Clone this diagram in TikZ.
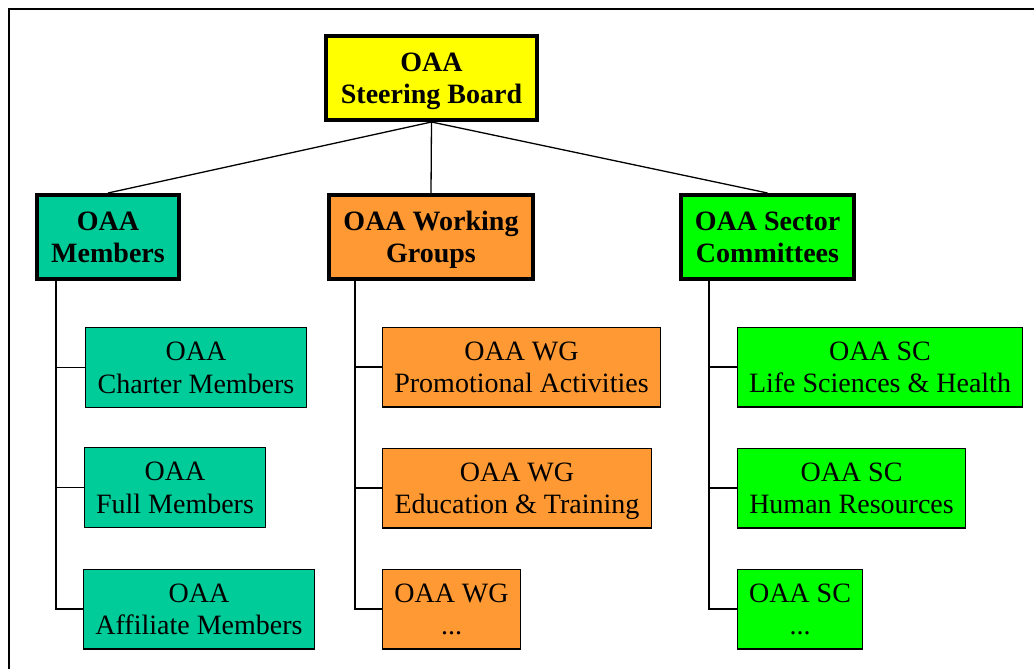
\documentclass[tikz,border=0pt]{standalone}
\usepackage{fontspec}
\setmainfont{Liberation Serif}
\definecolor{boardyellow}{HTML}{FFFF00}
\definecolor{memberteal}{HTML}{00CC99}
\definecolor{wgorange}{HTML}{FF9933}
\definecolor{scgreen}{HTML}{00FF00}
\tikzset{
	headbox/.style={draw, line width=4pt, align=center, inner sep=0pt, text depth=0pt,
		minimum height=84pt, font=\fontsize{28}{32}\selectfont\bfseries},
	subbox/.style={draw, line width=1.4pt, align=center, inner sep=0pt, text depth=-4pt,
		minimum height=79.6pt, font=\fontsize{28}{32.5}\selectfont},
	wire/.style={line width=1.3pt}
}
\begin{document}
\begin{tikzpicture}[x=1pt, y=-1pt]
		\useasboundingbox (0,0) rectangle (1034,669);

		% Draw the frame
		\draw[line width=1.5pt] (9,669) -- (9,9) -- (1034,9);

		% Draw the board and the three groups below it
		\node[headbox, fill=boardyellow, minimum width=211pt] (board) at (431.5,78) {OAA\\Steering Board};
		\node[headbox, fill=memberteal, minimum width=142pt] (members) at (108,237) {OAA\\Members};
		\node[headbox, fill=wgorange, minimum width=204pt] (groups) at (431,237) {OAA Working\\Groups};
		\node[headbox, fill=scgreen, minimum width=173pt] (sectors) at (767.5,237) {OAA Sector\\Committees};

		\draw[wire] (board.south) -- (members.north);
		\draw[wire] (board.south) -- (groups.north);
		\draw[wire] (board.south) -- (sectors.north);

		% Draw the members
		\node[subbox, fill=memberteal, minimum width=220.6pt] (charter) at (196,367.5) {OAA\\Charter Members};
		\node[subbox, fill=memberteal, minimum width=180.6pt] (full) at (175,487.5) {OAA\\Full Members};
		\node[subbox, fill=memberteal, minimum width=230.6pt] (affiliate) at (199,609) {OAA\\Affiliate Members};

		% Draw the working groups
		\node[subbox, fill=wgorange, minimum width=277.6pt] (promo) at (521.5,367) {OAA WG\\Promotional Activities};
		\node[subbox, fill=wgorange, minimum width=268.6pt] (edu) at (517,488) {OAA WG\\Education \& Training};
		\node[subbox, fill=wgorange, minimum width=137.6pt] (wgmore) at (451.5,609) {OAA WG\\...};

		% Draw the sector committees
		\node[subbox, fill=scgreen, minimum width=284.6pt] (life) at (880,367) {OAA SC\\Life Sciences \& Health};
		\node[subbox, fill=scgreen, minimum width=227.6pt] (human) at (851.5,488) {OAA SC\\Human Resources};
		\node[subbox, fill=scgreen, minimum width=124.6pt] (scmore) at (800,609) {OAA SC\\...};

		% Draw the trunks down to the boxes
		\coordinate (memtrunk) at (56,281);
		\coordinate (wgtrunk) at (355,281);
		\coordinate (sctrunk) at (709,281);

		\draw[wire] (memtrunk) |- (charter.west);
		\draw[wire] (memtrunk) |- (full.west);
		\draw[wire] (memtrunk) |- (affiliate.west);

		\draw[wire] (wgtrunk) |- (promo.west);
		\draw[wire] (wgtrunk) |- (edu.west);
		\draw[wire] (wgtrunk) |- (wgmore.west);

		\draw[wire] (sctrunk) |- (life.west);
		\draw[wire] (sctrunk) |- (human.west);
		\draw[wire] (sctrunk) |- (scmore.west);

	\end{tikzpicture}
\end{document}
